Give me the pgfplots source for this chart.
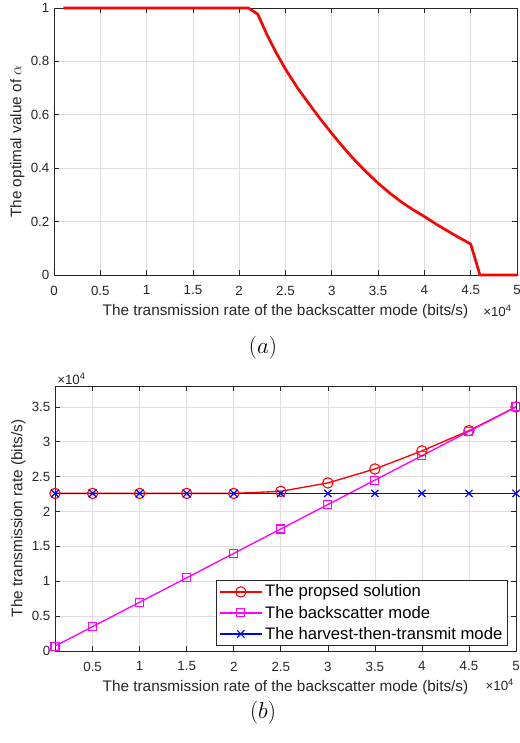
\documentclass[border=0pt]{standalone}
\usepackage{pgfplots}
\pgfplotsset{compat=1.18}
\usepackage{fontspec}
\setmainfont{Liberation Sans}
\definecolor{axgray}{gray}{0.15}
\definecolor{gridgray}{gray}{0.87}
\definecolor{mag}{rgb}{1,0,1}
\pgfplotsset{
  matlab/.style={
    scale only axis,
    axis line style={axgray, line width=0.5pt},
    every tick/.style={axgray, line width=0.5pt},
    major tick length=3.75pt,
    grid=major,
    major grid style={gridgray, line width=0.5pt},
    tick label style={font=\fontsize{10}{12}\selectfont, text=axgray},
    /pgf/number format/assume math mode=true,
    /pgf/number format/fixed,
    xticklabel style={yshift=-4.5pt},
    label style={font=\fontsize{11.5}{13}\selectfont, text=axgray},
    xlabel style={at={(axis description cs:0.5,0)}, anchor=center, yshift=-27.5pt},
    ylabel style={at={(axis description cs:0,0.5)}, anchor=center, yshift=27.5pt},
  }
}
\begin{document}
\begin{tikzpicture}
\useasboundingbox (0,0) rectangle (389.25pt,-557.25pt);
% ---------- (a) ----------
\begin{axis}[matlab,
  at={(40.5pt,-206.25pt)}, anchor=south west,
  width=347.25pt, height=200.25pt,
  xmin=0, xmax=5, ymin=0, ymax=1,
  xtick={0,0.5,1,1.5,2,2.5,3,3.5,4,4.5,5},
  ytick={0,0.2,0.4,0.6,0.8,1},
  clip=false,
  xlabel={The transmission rate of the backscatter mode (bits/s)},
  ylabel={The optimal value of $\alpha$},
]
\addplot[red, line width=2pt, line join=round] coordinates {
(0.1,1) (2.1,1) (2.2,0.977) (2.3,0.900) (2.4,0.832) (2.5,0.771) (2.625,0.703)
(2.75,0.643) (2.875,0.585) (3,0.53) (3.125,0.478) (3.25,0.429) (3.375,0.385)
(3.5,0.344) (3.625,0.307) (3.75,0.274) (3.875,0.245) (4,0.219) (4.125,0.191)
(4.25,0.165) (4.375,0.140) (4.5,0.116) (4.6,0) (5,0)};
\end{axis}
\node[anchor=base west, font=\fontsize{10}{12}\selectfont, text=axgray, inner sep=0pt] at (362.25pt,-237.5pt) {×10\textsuperscript{4}};
\node[font=\fontsize{17}{20}\selectfont] at (197.25pt,-261pt) {$(a)$};
% ---------- (b) ----------
\begin{axis}[matlab,
  at={(41.25pt,-488.25pt)}, anchor=south west,
  width=345.75pt, height=198.75pt,
  xmin=0.1, xmax=5, ymin=0, ymax=3.8,
  xtick={0.5,1,1.5,2,2.5,3,3.5,4,4.5,5},
  ytick={0,0.5,1,1.5,2,2.5,3,3.5},
  xlabel={The transmission rate of the backscatter mode (bits/s)},
  ylabel={The transmission rate (bits/s)},
  legend style={at={(1,0)}, anchor=south east, xshift=-6pt, yshift=3.75pt,
    font=\fontsize{12.5}{14}\selectfont, draw=axgray, line width=0.5pt, fill=white,
    inner xsep=2pt, inner ysep=1.5pt, row sep=1.2pt, legend cell align=left},
  legend image code/.code={\draw[mark repeat=2,mark phase=2,#1] plot coordinates {(0pt,0pt) (15.75pt,0pt) (31.5pt,0pt)};},
]
\addplot[red, line width=1pt, mark=o, mark size=3.9pt, mark options={line width=0.8pt}] coordinates {
(0.1,2.26) (0.5,2.26) (1,2.26) (1.5,2.26) (2,2.26) (2.5,2.29) (3,2.41)
(3.5,2.61) (4,2.87) (4.5,3.16) (5,3.5)};
\addlegendentry{The propsed solution}
\addplot[mag, line width=1pt, mark=square, mark size=3pt, mark options={line width=0.8pt}] coordinates {
(0.1,0.07) (0.5,0.35) (1,0.7) (1.5,1.05) (2,1.4) (2.5,1.75) (3,2.1)
(3.5,2.45) (4,2.8) (4.5,3.15) (5,3.5)};
\addlegendentry{The backscatter mode}
\addplot[blue, line width=1pt, mark=x, mark size=3.8pt, mark options={line width=0.9pt}] coordinates {
(0.1,2.26) (0.5,2.26) (1,2.26) (1.5,2.26) (2,2.26) (2.5,2.26) (3,2.26)
(3.5,2.26) (4,2.26) (4.5,2.26) (5,2.26)};
\addlegendentry{The harvest-then-transmit mode}
\end{axis}
\node[anchor=base west, font=\fontsize{10}{12}\selectfont, text=axgray, inner sep=0pt] at (42.75pt,-288pt) {×10\textsuperscript{4}};
\node[anchor=base west, font=\fontsize{10}{12}\selectfont, text=axgray, inner sep=0pt] at (364pt,-518pt) {×10\textsuperscript{4}};
\node[font=\fontsize{17}{20}\selectfont] at (197.25pt,-534.75pt) {$(b)$};
\end{tikzpicture}
\end{document}
